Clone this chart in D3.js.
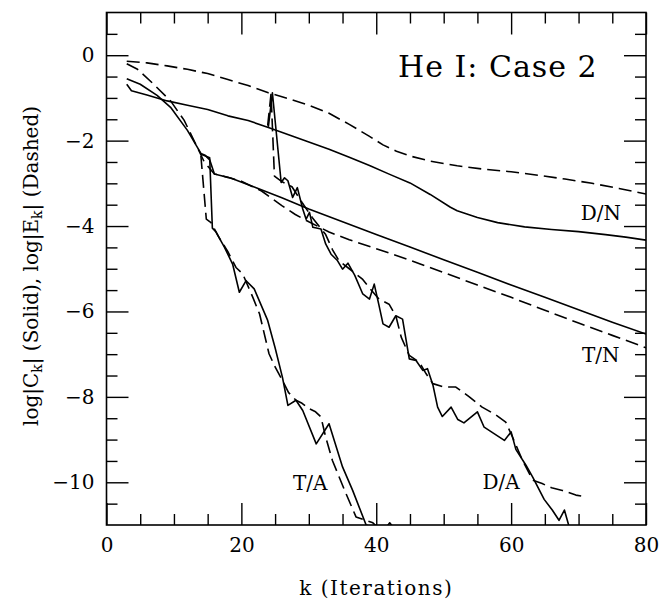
<!DOCTYPE html>
<html>
<head>
<meta charset="utf-8">
<script src="https://cdn.jsdelivr.net/npm/d3@7"></script>
<style>
  html, body { margin: 0; padding: 0; background: #fff; }
  svg { display: block; }
  text { font-family: "DejaVu Serif", serif; fill: #000; }
</style>
</head>
<body>
<svg id="chart" width="671" height="599"></svg>
<script>
// ---------- data (k = iteration, v = log value) ----------
const dnDashedK = [3, 6, 9, 12, 15, 18, 21, 24, 27, 30, 33, 36, 39, 41, 43, 45, 48, 52, 56, 60, 64, 68, 72, 76, 80];
const dnDashedV = [-0.14, -0.18, -0.25, -0.33, -0.43, -0.57, -0.71, -0.88, -1.02, -1.17, -1.36, -1.62, -1.9, -2.1, -2.25, -2.36, -2.48, -2.59, -2.67, -2.73, -2.81, -2.9, -3.0, -3.12, -3.25];

const dnSolidK = [3, 3.7, 6, 9, 12, 15, 18, 21, 24, 27, 30, 33, 36, 39, 42, 45, 48, 51, 52, 55, 58, 62, 66, 70, 74, 77, 80];
const dnSolidV = [-0.68, -0.83, -0.93, -1.07, -1.17, -1.27, -1.42, -1.53, -1.69, -1.86, -2.03, -2.2, -2.39, -2.58, -2.79, -2.99, -3.26, -3.56, -3.64, -3.8, -3.92, -4.02, -4.08, -4.13, -4.2, -4.26, -4.33];

const tnSolidK = [3, 5, 7.5, 9.5, 12, 14, 14.6, 15.3, 16, 18.5, 22, 26, 30, 35, 40, 45, 50, 55, 60, 65, 70, 75, 80];
const tnSolidV = [-0.55, -0.68, -0.94, -1.22, -1.76, -2.3, -2.34, -2.45, -2.78, -2.88, -3.09, -3.34, -3.6, -3.9, -4.2, -4.49, -4.79, -5.08, -5.38, -5.67, -5.96, -6.25, -6.53];

const tnDashedK = [3, 4.6, 7, 9.5, 11.5, 13.5, 14.5, 16, 18, 20, 23, 26, 28, 30, 33, 36, 40, 45, 50, 55, 60, 65, 70, 75, 80];
const tnDashedV = [-0.2, -0.33, -0.68, -1.07, -1.52, -2.17, -2.5, -2.78, -2.86, -2.95, -3.18, -3.52, -3.73, -3.9, -4.14, -4.32, -4.53, -4.8, -5.09, -5.38, -5.67, -5.97, -6.27, -6.56, -6.85];

const taSolidK = [14, 14.5, 15.3, 15.7, 16.2, 17.5, 18.7, 19.7, 20.7, 21.9, 23.9, 25, 26.1, 26.9, 28.1, 29.1, 31.1, 33, 35, 36.5, 38.5, 39.5, 41.5, 42, 42.5];
const taSolidV = [-2.32, -2.35, -2.4, -4.05, -4.13, -4.5, -4.89, -5.55, -5.28, -5.47, -6.21, -6.85, -7.55, -8.2, -8.08, -8.32, -9.1, -8.63, -9.64, -10.19, -11.0, -11.05, -11.05, -10.95, -11.05];

const taDashedK = [14, 14.8, 15.5, 16.7, 18, 19.2, 20.2, 21.7, 22.7, 24.1, 25, 26.1, 27, 28.1, 29, 30.1, 31, 31.8, 32.5, 33.5, 35.5, 37, 38.5, 39.5, 40.5];
const taDashedV = [-2.36, -3.84, -3.92, -4.27, -4.6, -4.97, -5.12, -5.67, -6.06, -6.99, -7.3, -7.62, -7.9, -8.08, -8.15, -8.28, -8.35, -8.47, -8.94, -9.49, -10.26, -10.81, -10.89, -10.95, -11.1];

const daSolidK = [24, 24.6, 25.9, 26.4, 26.9, 27.6, 28.3, 29.1, 29.6, 30.1, 30.6, 31.8, 32.5, 33.3, 34.2, 35, 35.8, 36.8, 38, 39, 39.7, 40.4, 41, 41.9, 42.9, 43.9, 44.9, 45.9, 46.9, 47.6, 48.4, 49.1, 49.8, 51.1, 52.1, 53, 55, 56, 59, 60, 60.7, 62.2, 63.2, 64.9, 66.1, 67.1, 67.9, 68.6, 69.2];
const daSolidV = [-1.68, -0.88, -2.98, -2.87, -2.94, -3.33, -3.1, -3.6, -3.84, -3.68, -4.03, -4.07, -4.42, -4.66, -4.8, -5.01, -4.87, -5.15, -5.59, -5.71, -5.36, -5.85, -6.29, -6.37, -6.1, -6.18, -7.11, -7.15, -7.38, -7.34, -7.72, -8.24, -8.46, -8.24, -8.53, -8.61, -8.35, -8.71, -9.02, -8.82, -9.23, -9.6, -9.88, -10.4, -10.65, -10.89, -10.65, -11.04, -11.3];

const daDashedK = [23.9, 24.4, 24.9, 26, 27.5, 29, 30.5, 31.5, 32.5, 33.5, 34.5, 36, 38, 39, 40.4, 41.9, 42.9, 43.7, 44.9, 46.4, 47.4, 48.4, 50.1, 51.8, 53.8, 55.7, 57.7, 59.2, 60.2, 61.7, 63.2, 64.6, 66, 67.6, 69.6, 70.8];
const daDashedV = [-1.65, -0.9, -2.83, -2.96, -3.08, -3.45, -3.8, -4.0, -4.2, -4.55, -4.82, -5.0, -5.25, -5.45, -5.71, -5.83, -6.1, -6.6, -7.03, -7.19, -7.46, -7.69, -7.77, -7.77, -8.0, -8.24, -8.42, -8.59, -8.94, -9.49, -9.95, -10.03, -10.13, -10.19, -10.3, -10.33];

const xMajorTicks = [0, 20, 40, 60, 80];
const xMinorTicks = [5, 10, 15, 25, 30, 35, 45, 50, 55, 65, 70, 75];
const yMajorTicks = [0, -2, -4, -6, -8, -10];
const yMinorTicks = [0.5, -0.5, -1, -1.5, -2.5, -3, -3.5, -4.5, -5, -5.5, -6.5, -7, -7.5, -8.5, -9, -9.5, -10.5];

const titleText = "He I: Case 2";
const xLabel = "k (Iterations)";
const curveLabels = [
  { text: "D/N", k: 73.3, v: -3.85 },
  { text: "T/N", k: 73.3, v: -7.18 },
  { text: "T/A", k: 30.2, v: -10.17 },
  { text: "D/A", k: 58.5, v: -10.15 }
];

// ---------- layout ----------
const svg = d3.select("#chart");
const x = d3.scaleLinear().domain([0, 80]).range([106.5, 646]);
const y = d3.scaleLinear().domain([1, -11]).range([12.5, 525]);
const x0 = x.range()[0], x1 = x.range()[1], yTop = y.range()[0], yBot = y.range()[1];

svg.append("defs").append("clipPath").attr("id", "plotClip")
  .append("rect").attr("x", x0).attr("y", yTop).attr("width", x1 - x0).attr("height", yBot - yTop);

const MAJ = 22, MIN = 11;

function styleAxis(g) {
  g.select(".domain").remove();
  g.selectAll(".tick line").attr("stroke", "#000").attr("stroke-width", 1.4);
  g.selectAll(".tick text").style("font-family", "DejaVu Serif, serif").style("font-size", "20px").attr("fill", "#000");
}

// bottom
svg.append("g").attr("transform", `translate(0,${yBot})`)
  .call(d3.axisBottom(x).tickValues(xMajorTicks).tickSize(-MAJ).tickPadding(13).tickFormat(d3.format("d")))
  .call(styleAxis);
svg.append("g").attr("transform", `translate(0,${yBot})`)
  .call(d3.axisBottom(x).tickValues(xMinorTicks).tickSize(-MIN).tickFormat(""))
  .call(styleAxis);
// top
svg.append("g").attr("transform", `translate(0,${yTop})`)
  .call(d3.axisTop(x).tickValues(xMajorTicks).tickSize(-MAJ).tickFormat(""))
  .call(styleAxis);
svg.append("g").attr("transform", `translate(0,${yTop})`)
  .call(d3.axisTop(x).tickValues(xMinorTicks).tickSize(-MIN).tickFormat(""))
  .call(styleAxis);
// left
svg.append("g").attr("transform", `translate(${x0},0)`)
  .call(d3.axisLeft(y).tickValues(yMajorTicks).tickSize(-MAJ).tickPadding(12).tickFormat(d3.format("d")))
  .call(styleAxis);
svg.append("g").attr("transform", `translate(${x0},0)`)
  .call(d3.axisLeft(y).tickValues(yMinorTicks).tickSize(-MIN).tickFormat(""))
  .call(styleAxis);
// right
svg.append("g").attr("transform", `translate(${x1},0)`)
  .call(d3.axisRight(y).tickValues(yMajorTicks).tickSize(-MAJ).tickFormat(""))
  .call(styleAxis);
svg.append("g").attr("transform", `translate(${x1},0)`)
  .call(d3.axisRight(y).tickValues(yMinorTicks).tickSize(-MIN).tickFormat(""))
  .call(styleAxis);

// frame
svg.append("rect").attr("x", x0).attr("y", yTop).attr("width", x1 - x0).attr("height", yBot - yTop)
  .attr("fill", "none").attr("stroke", "#000").attr("stroke-width", 1.6);

// ---------- curves ----------
const line = d3.line().x(d => x(d[0])).y(d => y(d[1]));
const series = [
  [dnDashedK, dnDashedV, true],
  [dnSolidK, dnSolidV, false],
  [tnSolidK, tnSolidV, false],
  [tnDashedK, tnDashedV, true],
  [taSolidK, taSolidV, false],
  [taDashedK, taDashedV, true],
  [daSolidK, daSolidV, false],
  [daDashedK, daDashedV, true]
];
const plot = svg.append("g").attr("clip-path", "url(#plotClip)");
series.forEach(([ks, vs, dashed]) => {
  plot.append("path")
    .datum(ks.map((k, i) => [k, vs[i]]))
    .attr("d", line)
    .attr("fill", "none")
    .attr("stroke", "#000")
    .attr("stroke-width", 1.6)
    .attr("stroke-linejoin", "round")
    .attr("stroke-dasharray", dashed ? "13,6" : null);
});

// ---------- text ----------
svg.append("text").attr("x", 398).attr("y", 77)
  .style("font-size", "30px").style("letter-spacing", "1px").text(titleText);

curveLabels.forEach(l => {
  svg.append("text").attr("x", x(l.k)).attr("y", y(l.v))
    .attr("text-anchor", "middle").style("font-size", "20px").text(l.text);
});

svg.append("text").attr("x", x(40)).attr("y", 595)
  .attr("text-anchor", "middle").style("font-size", "20px").style("letter-spacing", "1.5px").text(xLabel);

const yl = svg.append("text")
  .attr("transform", `translate(38,266) rotate(-90)`)
  .attr("text-anchor", "middle").style("font-size", "20px");
yl.append("tspan").text("log|C");
yl.append("tspan").attr("font-size", "14px").attr("dy", "4").text("k");
yl.append("tspan").attr("dy", "-4").text("|  (Solid),  log|E");
yl.append("tspan").attr("font-size", "14px").attr("dy", "4").text("k");
yl.append("tspan").attr("dy", "-4").text("|  (Dashed)");
</script>
</body>
</html>
